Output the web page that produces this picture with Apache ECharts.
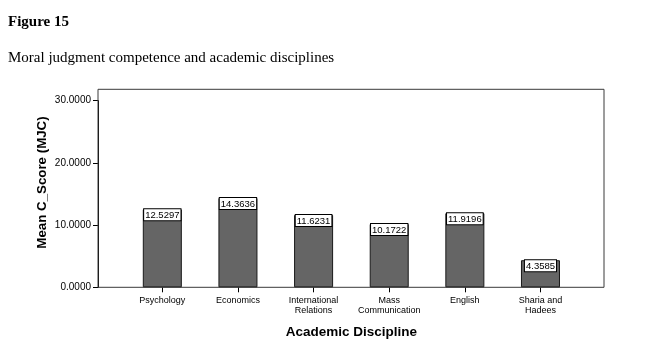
<!DOCTYPE html>
<html>
<head>
<meta charset="utf-8">
<script src="https://cdn.jsdelivr.net/npm/echarts@6/dist/echarts.min.js"></script>
<style>
html,body{margin:0;padding:0;background:#fff;}
#chart{width:648px;height:357px;}
</style>
</head>
<body>
<div id="chart"></div>
<script>
var categories = ['Psychology', 'Economics', 'International\nRelations', 'Mass\nCommunication', 'English', 'Sharia and\nHadees'];
var meanScores = [12.5297, 14.3636, 11.6231, 10.1722, 11.9196, 4.3585];
var yTicks = [0, 10, 20, 30];

var chart = echarts.init(document.getElementById('chart'));
var sans = '"Liberation Sans", Arial, sans-serif';
var serif = '"Liberation Serif", "Times New Roman", serif';

chart.setOption({
  animation: false,
  backgroundColor: '#fff',
  title: [
    { text: 'Figure 15', left: 8, top: 15, padding: 0,
      textStyle: { fontFamily: serif, fontSize: 15, fontWeight: 'bold', color: '#000' } },
    { text: 'Moral judgment competence and academic disciplines', left: 8, top: 51, padding: 0,
      textStyle: { fontFamily: serif, fontSize: 15, fontWeight: 'normal', color: '#000' } }
  ],
  grid: [
    { left: 124.5, right: 69.7, top: 100.7, bottom: 69.7, show: false },
    { left: 98, right: 44, top: 89.3, bottom: 69.7, show: true, borderColor: '#3a3a3a', borderWidth: 1, backgroundColor: 'transparent', z: 1 },
    { left: 98, right: 44, top: 77.7, bottom: 69.7, show: false }
  ],
  xAxis: [
    { type: 'category', gridIndex: 0, data: categories,
      axisLine: { show: false },
      axisTick: { show: true, alignWithLabel: true, length: 5, lineStyle: { color: '#000' } },
      axisLabel: { interval: 0, margin: 8, fontFamily: sans, fontSize: 9, lineHeight: 10, color: '#000' },
      name: 'Academic Discipline', nameLocation: 'middle', nameGap: 38,
      nameTextStyle: { fontFamily: sans, fontSize: 13.5, fontWeight: 'bold', color: '#000' } },
    { type: 'category', gridIndex: 1, show: false, data: [''] },
    { type: 'category', gridIndex: 2, show: false, data: [''] }
  ],
  yAxis: [
    { type: 'value', gridIndex: 0, min: yTicks[0], max: yTicks[yTicks.length - 1], interval: 10, offset: 26.5,
      splitLine: { show: false },
      axisLine: { show: true, lineStyle: { color: '#000' } },
      axisTick: { show: true, length: 5, lineStyle: { color: '#000' } },
      axisLabel: { margin: 7, fontFamily: sans, fontSize: 10, color: '#000',
        formatter: function (v) { return v.toFixed(4); } } },
    { type: 'value', gridIndex: 1, show: false, min: 0, max: 1, splitLine: { show: false } },
    { type: 'value', gridIndex: 2, show: true, min: 0, max: 1, splitLine: { show: false },
      axisLine: { show: false }, axisTick: { show: false }, axisLabel: { show: false },
      name: 'Mean C_Score (MJC)', nameLocation: 'middle', nameGap: 49,
      nameTextStyle: { fontFamily: sans, fontSize: 13.3, fontWeight: 'bold', color: '#000' } }
  ],
  series: [
    { type: 'bar', xAxisIndex: 0, yAxisIndex: 0, data: meanScores, barWidth: '51.6%', z: 3,
      itemStyle: { color: '#656565', borderColor: '#1a1a1a', borderWidth: 1 },
      label: { show: true, position: 'insideTop', distance: 0,
        formatter: function (p) { return p.value.toFixed(4); },
        fontFamily: sans, fontSize: 9.5, lineHeight: 10, color: '#000',
        backgroundColor: '#fff', borderColor: '#000', borderWidth: 1, padding: [1, 1, 0, 1] } }
  ]
});
</script>
</body>
</html>
